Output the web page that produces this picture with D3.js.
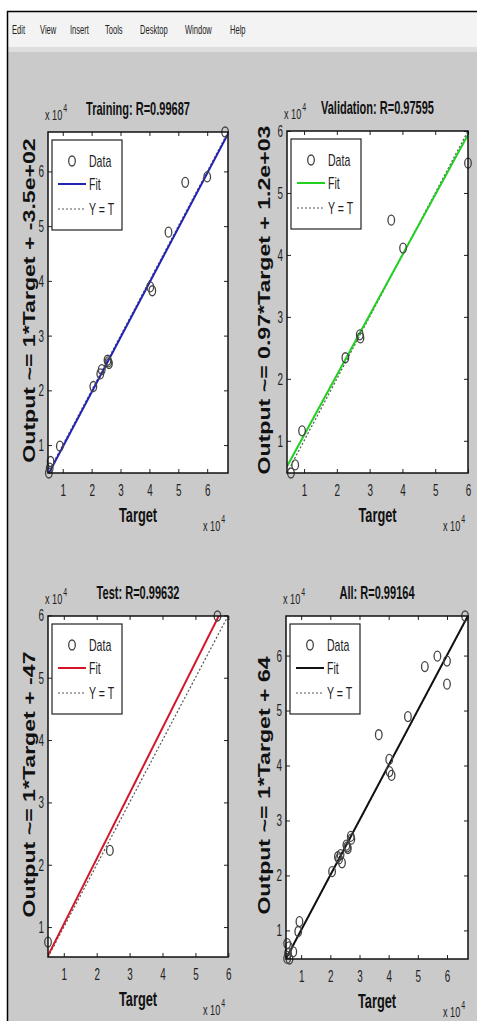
<!DOCTYPE html>
<html>
<head>
<meta charset="utf-8">
<script src="https://cdn.jsdelivr.net/npm/d3@7"></script>
<style>
  body { margin: 0; background: #fff; }
  text { font-family: "Liberation Sans", Arial, sans-serif; }
</style>
</head>
<body>
<svg id="fig" width="477" height="1021"></svg>
<script>
// values in units of 1e4
const trainTarget = [6.62, 6.00, 5.24, 4.66, 4.03, 4.10, 2.60, 2.55, 2.58, 2.35, 2.30, 2.06, 0.90, 0.55, 0.58, 0.52]
const trainOutput = [6.72, 5.90, 5.80, 4.89, 3.89, 3.82, 2.49, 2.55, 2.52, 2.38, 2.30, 2.07, 0.98, 0.58, 0.70, 0.49]

const valTarget = [6.00, 3.66, 4.02, 2.70, 2.72, 2.26, 0.94, 0.73, 0.60]
const valOutput = [5.48, 4.56, 4.11, 2.71, 2.66, 2.34, 1.16, 0.61, 0.48]

const testTarget = [5.67, 2.40, 0.52]
const testOutput = [5.99, 2.23, 0.76]

const allTarget = trainTarget.concat(valTarget, testTarget)
const allOutput = trainOutput.concat(valOutput, testOutput)

const titles = ['Training: R=0.99687', 'Validation: R=0.97595', 'Test: R=0.99632', 'All: R=0.99164']
const yLabels = ['Output ~= 1*Target + -3.5e+02', 'Output ~= 0.97*Target + 1.2e+03',
                 'Output ~= 1*Target + -47', 'Output ~= 1*Target + 64']
const fitSlope = [1, 0.97, 1.05, 1]
const fitIntercept = [-0.035, 0.12, -0.0047, 0.0064]
const fitColors = ['#2222b4', '#22d022', '#d4162c', '#111111']
const ticks = [1, 2, 3, 4, 5, 6]
const legendLabels = ['Data', 'Fit', 'Y = T']
const menuItems = ['Edit', 'View', 'Insert', 'Tools', 'Desktop', 'Window', 'Help']

const targets = [trainTarget, valTarget, testTarget, allTarget]
const outputs = [trainOutput, valOutput, testOutput, allOutput]

// axes boxes (left, top, right, bottom)
const boxes = [
  {l: 48, t: 132, r: 228, b: 473},
  {l: 287, t: 131, r: 468, b: 473},
  {l: 48, t: 616, r: 228, b: 957},
  {l: 286, t: 616, r: 468, b: 959}
]
const yLabelX = [35, 270, 35, 270]

function squeeze(sel, f) {
  sel.each(function () {
    const w = this.getComputedTextLength()
    d3.select(this).attr('textLength', w * f).attr('lengthAdjust', 'spacingAndGlyphs')
  })
}

const svg = d3.select('#fig')

// window chrome
svg.append('rect').attr('x', 7).attr('y', 11).attr('width', 470).attr('height', 1010).attr('fill', '#cacaca')
svg.append('rect').attr('x', 7).attr('y', 11).attr('width', 470).attr('height', 36).attr('fill', '#f3f3f3')
svg.append('rect').attr('x', 7).attr('y', 47).attr('width', 470).attr('height', 5).attr('fill', '#dedede')
svg.append('line').attr('x1', 7).attr('x2', 477).attr('y1', 11.5).attr('y2', 11.5).attr('stroke', '#000').attr('stroke-width', 1.5)
svg.append('line').attr('x1', 7.5).attr('x2', 7.5).attr('y1', 11).attr('y2', 1021).attr('stroke', '#000').attr('stroke-width', 1.5)

const menuX = [12, 40, 70, 105, 140, 185, 230]
svg.selectAll('.menu')
  .data(menuItems)
  .enter()
  .append('text')
  .classed('menu', true)
  .attr('x', (d, i) => menuX[i])
  .attr('y', 34)
  .attr('font-size', 13)
  .attr('fill', '#222')
  .text(d => d)
  .call(squeeze, 0.58)

boxes.forEach((box, i) => {
  const tx = targets[i], ty = outputs[i]
  const lo = Math.min(d3.min(tx), d3.min(ty))
  const hi = Math.max(d3.max(tx), d3.max(ty))

  const x = d3.scaleLinear().domain([lo, hi]).range([box.l, box.r])
  const y = d3.scaleLinear().domain([lo, hi]).range([box.b, box.t])

  const g = svg.append('g')

  g.append('rect')
    .attr('x', box.l).attr('y', box.t)
    .attr('width', box.r - box.l).attr('height', box.b - box.t)
    .attr('fill', '#fff')

  const clipId = 'clip' + i
  svg.append('clipPath').attr('id', clipId)
    .append('rect')
    .attr('x', box.l).attr('y', box.t)
    .attr('width', box.r - box.l).attr('height', box.b - box.t)

  // Y = T
  g.append('line')
    .attr('clip-path', `url(#${clipId})`)
    .attr('x1', x(lo)).attr('y1', y(lo))
    .attr('x2', x(hi)).attr('y2', y(hi))
    .attr('stroke', '#555')
    .attr('stroke-width', 1.2)
    .attr('stroke-dasharray', '2,2')

  // fit
  g.append('line')
    .attr('clip-path', `url(#${clipId})`)
    .attr('x1', x(lo)).attr('y1', y(fitSlope[i] * lo + fitIntercept[i]))
    .attr('x2', x(hi)).attr('y2', y(fitSlope[i] * hi + fitIntercept[i]))
    .attr('stroke', fitColors[i])
    .attr('stroke-width', 2)

  g.selectAll('.pt')
    .data(tx)
    .enter()
    .append('ellipse')
    .classed('pt', true)
    .attr('cx', d => x(d))
    .attr('cy', (d, k) => y(ty[k]))
    .attr('rx', 3.3)
    .attr('ry', 5)
    .attr('fill', 'none')
    .attr('stroke', '#444')
    .attr('stroke-width', 1.3)

  // axes, ticks inward on four sides
  g.append('g')
    .attr('transform', `translate(0,${box.b})`)
    .call(d3.axisBottom(x).tickValues(ticks).tickFormat(d3.format('d'))
      .tickSizeInner(-4).tickSizeOuter(0).tickPadding(11))
  g.append('g')
    .attr('transform', `translate(${box.l},0)`)
    .call(d3.axisLeft(y).tickValues(ticks).tickFormat(d3.format('d'))
      .tickSizeInner(-4).tickSizeOuter(0).tickPadding(4))
  g.append('g')
    .attr('transform', `translate(0,${box.t})`)
    .call(d3.axisTop(x).tickValues(ticks).tickSizeInner(-4).tickSizeOuter(0).tickFormat(''))
  g.append('g')
    .attr('transform', `translate(${box.r},0)`)
    .call(d3.axisRight(y).tickValues(ticks).tickSizeInner(-4).tickSizeOuter(0).tickFormat(''))

  g.selectAll('.domain').remove()
  g.selectAll('.tick line').attr('stroke', '#222')
  g.selectAll('.tick text')
    .attr('font-family', '"Liberation Sans", Arial, sans-serif')
    .attr('font-size', 17)
    .attr('fill', '#222')
    .call(squeeze, 0.58)

  g.append('rect')
    .attr('x', box.l).attr('y', box.t)
    .attr('width', box.r - box.l).attr('height', box.b - box.t)
    .attr('fill', 'none')
    .attr('stroke', '#111')
    .attr('stroke-width', 1.5)

  // legend
  const lx = box.l + 4, ly = box.t + 8
  const leg = g.append('g')
  leg.append('rect')
    .attr('x', lx).attr('y', ly).attr('width', 70).attr('height', 90)
    .attr('fill', '#fff').attr('stroke', '#222').attr('stroke-width', 1.2)
  const rowY = [ly + 21, ly + 44, ly + 69]
  leg.append('ellipse')
    .attr('cx', lx + 20).attr('cy', rowY[0]).attr('rx', 3.3).attr('ry', 5)
    .attr('fill', 'none').attr('stroke', '#444').attr('stroke-width', 1.3)
  leg.append('line')
    .attr('x1', lx + 6).attr('x2', lx + 34).attr('y1', rowY[1]).attr('y2', rowY[1])
    .attr('stroke', fitColors[i]).attr('stroke-width', 2)
  leg.append('line')
    .attr('x1', lx + 6).attr('x2', lx + 34).attr('y1', rowY[2]).attr('y2', rowY[2])
    .attr('stroke', '#555').attr('stroke-width', 1.2).attr('stroke-dasharray', '2,2')
  leg.selectAll('.lt')
    .data(legendLabels)
    .enter()
    .append('text')
    .classed('lt', true)
    .attr('x', lx + 37)
    .attr('y', (d, k) => rowY[k] + 6)
    .attr('font-size', 17)
    .attr('fill', '#222')
    .text(d => d)
    .call(squeeze, 0.62)

  // titles and labels
  const cx = (box.l + box.r) / 2
  g.append('text')
    .attr('x', cx).attr('y', box.t - 17)
    .attr('text-anchor', 'middle')
    .attr('font-size', 19).attr('font-weight', 'bold')
    .attr('fill', '#111')
    .text(titles[i])
    .call(squeeze, 0.58)

  g.append('text')
    .attr('x', cx).attr('y', box.b + 49)
    .attr('text-anchor', 'middle')
    .attr('font-size', 20).attr('font-weight', 'bold')
    .attr('fill', '#111')
    .text('Target')
    .call(squeeze, 0.64)

  g.append('text')
    .attr('transform', `translate(${yLabelX[i]},${(box.t + box.b) / 2 - 2}) rotate(-90)`)
    .attr('text-anchor', 'middle')
    .attr('font-size', 16.5).attr('font-weight', 'bold')
    .attr('fill', '#111')
    .text(yLabels[i])
    .call(squeeze, 1.4)

  // x 10^4 exponent labels
  const expo = [[box.l - 3, box.t - 12], [box.r - 25, box.b + 58]]
  expo.forEach(p => {
    const base = g.append('text')
      .attr('x', p[0]).attr('y', p[1])
      .attr('font-size', 14).attr('fill', '#222')
      .text('x 10')
      .call(squeeze, 0.65)
    const w = +base.attr('textLength')
    g.append('text')
      .attr('x', p[0] + w + 1).attr('y', p[1] - 8)
      .attr('font-size', 10).attr('fill', '#222')
      .text('4')
      .call(squeeze, 0.7)
  })
})
</script>
</body>
</html>
